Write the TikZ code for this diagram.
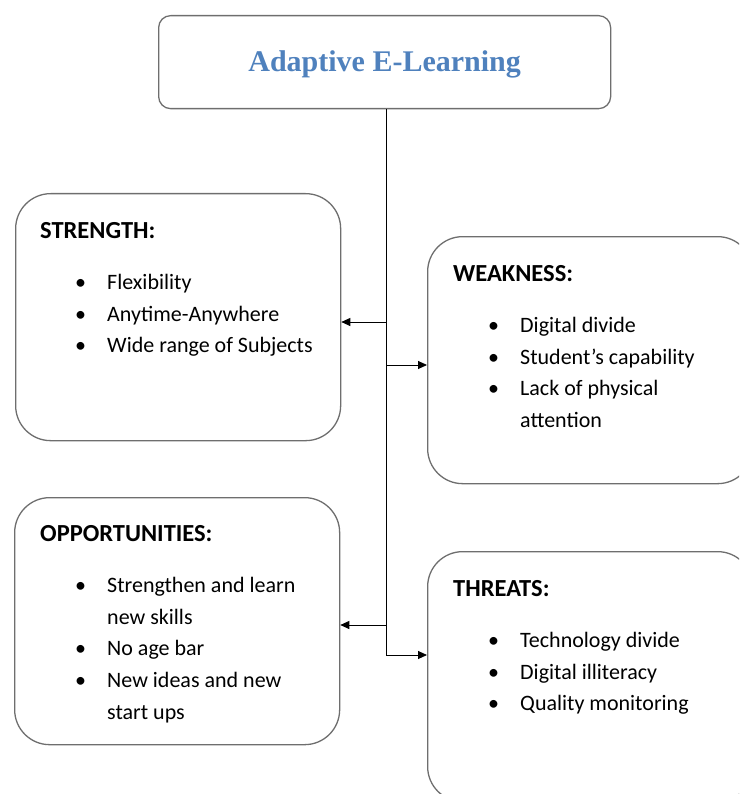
\documentclass[tikz,border=0pt]{standalone}
\usepackage{fontspec}
\setmainfont{Carlito}
\newfontfamily\titlefont{Liberation Serif}
\usetikzlibrary{arrows.meta}
\definecolor{titleblue}{RGB}{79,129,189}
\definecolor{boxgray}{RGB}{110,110,110}
% heading, one bullet line, and a wrapped line under it
\newcommand{\hdg}[1]{{\fontsize{24.5}{31.7}\selectfont\bfseries #1}}
\newcommand{\itm}[1]{\hspace*{35pt}\makebox[32pt][l]{\textbullet}#1}
\newcommand{\cnt}[1]{\hspace*{67pt}#1}
\begin{document}
\begin{tikzpicture}[x=1pt,y=-1pt,
	swotbox/.style={draw=boxgray,line width=1.3pt,rounded corners=35pt,
		anchor=north west,minimum width=325pt,minimum height=247pt,inner sep=0pt},
	swottext/.style={anchor=north west,align=left,inner sep=0pt,
		font=\fontsize{22}{31.7}\selectfont},
	link/.style={line width=0.9pt,-{Triangle[length=9pt,width=8pt]}}]
	\useasboundingbox (0,0) rectangle (739,794);
	\clip (0,0) rectangle (739,794);
	% title
	\node[draw=boxgray,line width=1.3pt,rounded corners=12pt,minimum width=452pt,
		minimum height=93pt,anchor=north west] (title) at (158,15) {};
	\node[font=\titlefont\bfseries\fontsize{30}{30}\selectfont,text=titleblue]
		(titletext) at ([yshift=-2pt]title.center) {Adaptive E-Learning};
	% the four boxes
	\node[swotbox] (strength) at (15,193) {};
	\node[swotbox] (weakness) at (427,236) {};
	\node[swotbox] (opport) at (14,497) {};
	\node[swotbox,minimum height=250pt] (threats) at (427,551) {};
	\node[swottext] (strengthtext) at (40,222) {\hdg{STRENGTH:}\\[19.5pt]
		\itm{Flexibility}\\ \itm{Anytime-Anywhere}\\ \itm{Wide range of Subjects}};
	\node[swottext] (weaknesstext) at (453,265) {\hdg{WEAKNESS:}\\[19.5pt]
		\itm{Digital divide}\\ \itm{Student’s capability}\\ \itm{Lack of physical}\\
		\cnt{attention}};
	\node[swottext] (opporttext) at (40,525) {\hdg{OPPORTUNITIES:}\\[19.5pt]
		\itm{Strengthen and learn}\\ \cnt{new skills}\\ \itm{No age bar}\\
		\itm{New ideas and new}\\ \cnt{start ups}};
	\node[swottext] (threatstext) at (453,580) {\hdg{THREATS:}\\[19.5pt]
		\itm{Technology divide}\\ \itm{Digital illiteracy}\\ \itm{Quality monitoring}};
	% spine and branches
	\coordinate (j1) at (386,322);
	\coordinate (j2) at (386,365);
	\coordinate (j3) at (386,625);
	\coordinate (j4) at (386,655);
	\draw[line width=0.9pt] (title.south -| j1) -- (j4);
	\draw[link] (j1) -- (strength.east |- j1);
	\draw[link] (j2) -- (weakness.west |- j2);
	\draw[link] (j3) -- (opport.east |- j3);
	\draw[link] (j4) -- (threats.west |- j4);
\end{tikzpicture}
\end{document}
